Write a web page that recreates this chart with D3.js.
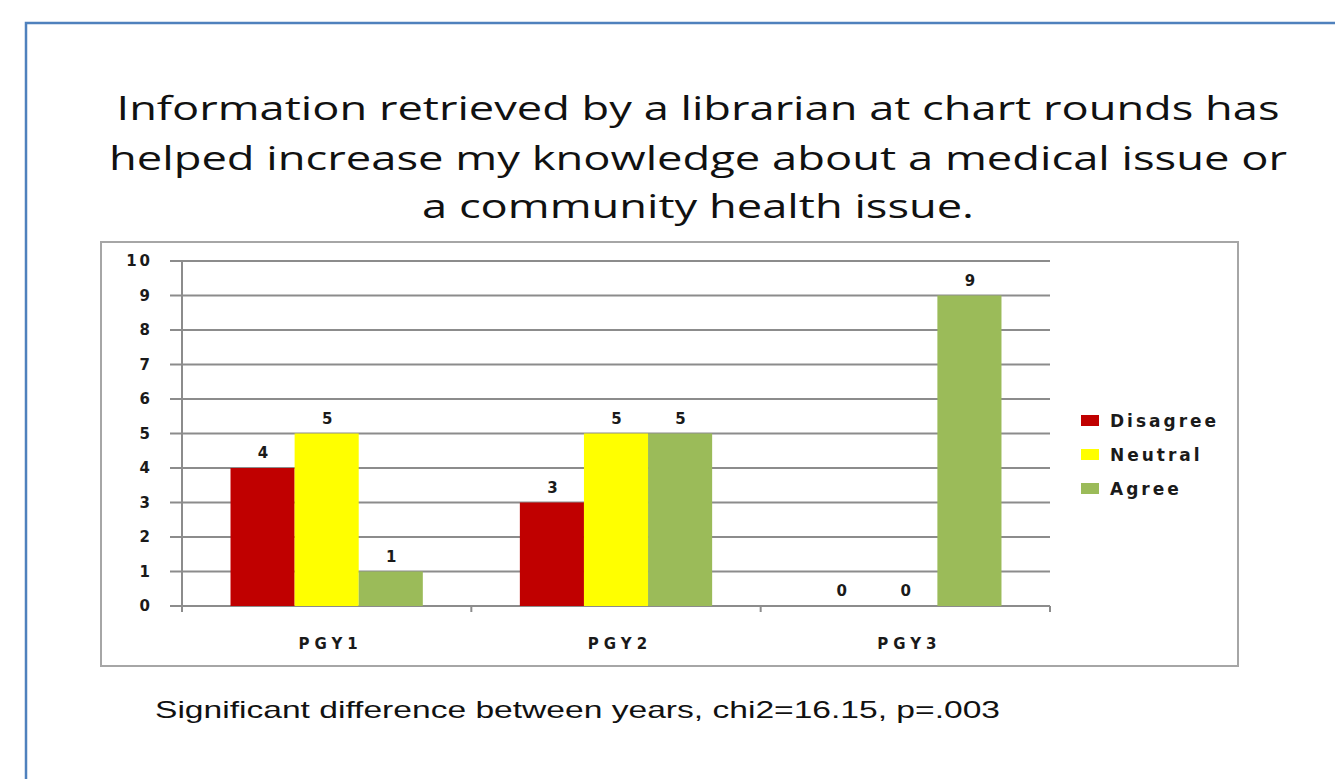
<!DOCTYPE html>
<html>
<head>
	<meta http-equiv="Content-Type" content="text/html;charset=utf-8">
	<title>Chart rounds survey</title>
	<script type="text/javascript" src="https://d3js.org/d3.v7.min.js"></script>
	<style type="text/css">
		body {
			margin: 0;
			background: white;
			overflow: hidden;
		}
		.title {
			font-family: "Open Sans", sans-serif;
			font-size: 33px;
			fill: #111;
		}
		.note {
			font-family: "Liberation Sans", Arial, sans-serif;
			font-size: 24px;
			fill: #111;
		}
		.tickLabel, .valueLabel, .catLabel, .legendLabel {
			font-family: "DejaVu Sans", Verdana, sans-serif;
			font-weight: bold;
			font-size: 15px;
			fill: #1a1a1a;
			letter-spacing: 3px;
		}
		.catLabel {
			font-size: 15px;
			letter-spacing: 5px;
		}
		.legendLabel {
			font-size: 17px;
			letter-spacing: 3px;
		}
		.grid line {
			stroke: #8c8c8c;
			stroke-width: 2;
		}
	</style>
</head>
<body>
	<svg id="chart" width="1335" height="779"></svg>

	<script type="text/javascript">
		// data
		var categories = ["PGY1", "PGY2", "PGY3"];
		var seriesNames = ["Disagree", "Neutral", "Agree"];
		var disagree = [4, 3, 0];
		var neutral = [5, 5, 0];
		var agree = [1, 5, 9];
		var yTicks = [0, 1, 2, 3, 4, 5, 6, 7, 8, 9, 10];
		var colors = ["#c00000", "#ffff00", "#9bbb59"];
		var titleLines = [
			"Information retrieved by a librarian at chart rounds has",
			"helped increase my knowledge about a medical issue  or",
			"a community health  issue."
		];
		var note = "Significant difference between years, chi2=16.15, p=.003";

		var series = [disagree, neutral, agree];

		var svg = d3.select("#chart");

		// slide frame
		svg.append("rect")
			.attr("x", 26).attr("y", 23)
			.attr("width", 1400).attr("height", 900)
			.attr("fill", "none")
			.attr("stroke", "#4f81bd")
			.attr("stroke-width", 2.5);

		// title, each line squeezed to the width it has in the slide
		var titleY = [120, 170, 218];
		var titleW = [1163, 1178, 552];
		svg.selectAll("text.title")
			.data(titleLines)
			.enter().append("text")
			.attr("class", "title")
			.attr("x", 698)
			.attr("y", (d, i) => titleY[i])
			.attr("text-anchor", "middle")
			.attr("textLength", (d, i) => titleW[i])
			.attr("lengthAdjust", "spacingAndGlyphs")
			.text(d => d);

		// chart box
		svg.append("rect")
			.attr("x", 101).attr("y", 242)
			.attr("width", 1137).attr("height", 424)
			.attr("fill", "white")
			.attr("stroke", "#a6a6a6")
			.attr("stroke-width", 2);

		var plotL = 182, plotR = 1050, plotT = 261, plotB = 606;

		var x0 = d3.scaleBand()
			.domain(categories)
			.range([plotL, plotR]);

		var x1 = d3.scaleBand()
			.domain(seriesNames)
			.range([0, x0.bandwidth()])
			.paddingOuter(0.757);

		var y = d3.scaleLinear()
			.domain([0, 10])
			.range([plotB, plotT]);

		// gridlines
		var grid = svg.append("g").attr("class", "grid");
		grid.selectAll("line")
			.data(yTicks)
			.enter().append("line")
			.attr("x1", plotL - 12)
			.attr("x2", plotR)
			.attr("y1", d => y(d))
			.attr("y2", d => y(d));

		// y axis line
		svg.append("line")
			.attr("x1", plotL).attr("x2", plotL)
			.attr("y1", plotT).attr("y2", plotB + 5)
			.attr("stroke", "#8c8c8c").attr("stroke-width", 2);

		// x axis ticks at band edges
		var edges = categories.map(c => x0(c)).concat([plotR]);
		svg.selectAll("line.xtick")
			.data(edges)
			.enter().append("line")
			.attr("class", "xtick")
			.attr("x1", d => d).attr("x2", d => d)
			.attr("y1", plotB).attr("y2", plotB + 6)
			.attr("stroke", "#8c8c8c").attr("stroke-width", 2);

		// y tick labels (trailing letter-spacing pushes end anchor left)
		svg.selectAll("text.tickLabel")
			.data(yTicks)
			.enter().append("text")
			.attr("class", "tickLabel")
			.attr("x", 153)
			.attr("y", d => y(d) + 5)
			.attr("text-anchor", "end")
			.text(d => d);

		// bars
		var groups = svg.selectAll("g.cat")
			.data(categories)
			.enter().append("g")
			.attr("class", "cat")
			.attr("transform", d => "translate(" + x0(d) + ",0)");

		groups.selectAll("rect")
			.data((c, ci) => seriesNames.map((s, si) => ({ s: s, v: series[si][ci], color: colors[si] })))
			.enter().append("rect")
			.attr("x", d => x1(d.s))
			.attr("width", x1.bandwidth())
			.attr("y", d => y(d.v))
			.attr("height", d => y(0) - y(d.v))
			.attr("fill", d => d.color);

		groups.selectAll("text.valueLabel")
			.data((c, ci) => seriesNames.map((s, si) => ({ s: s, v: series[si][ci] })))
			.enter().append("text")
			.attr("class", "valueLabel")
			.attr("x", d => x1(d.s) + x1.bandwidth() / 2 + 2)
			.attr("y", d => y(d.v) - 10)
			.attr("text-anchor", "middle")
			.text(d => d.v);

		// category labels
		svg.selectAll("text.catLabel")
			.data(categories)
			.enter().append("text")
			.attr("class", "catLabel")
			.attr("x", d => x0(d) + x0.bandwidth() / 2 + 4)
			.attr("y", 649)
			.attr("text-anchor", "middle")
			.text(d => d);

		// legend
		var legend = svg.selectAll("g.legend")
			.data(seriesNames)
			.enter().append("g")
			.attr("class", "legend")
			.attr("transform", (d, i) => "translate(1081," + (415 + i * 34) + ")");

		legend.append("rect")
			.attr("width", 18).attr("height", 11)
			.attr("fill", (d, i) => colors[i]);

		legend.append("text")
			.attr("class", "legendLabel")
			.attr("x", 29)
			.attr("y", 12)
			.text(d => d);

		// footnote, stretched like the slide text
		svg.append("text")
			.attr("class", "note")
			.attr("x", 155)
			.attr("y", 718)
			.attr("textLength", 845)
			.attr("lengthAdjust", "spacingAndGlyphs")
			.text(note);
	</script>
</body>
</html>
